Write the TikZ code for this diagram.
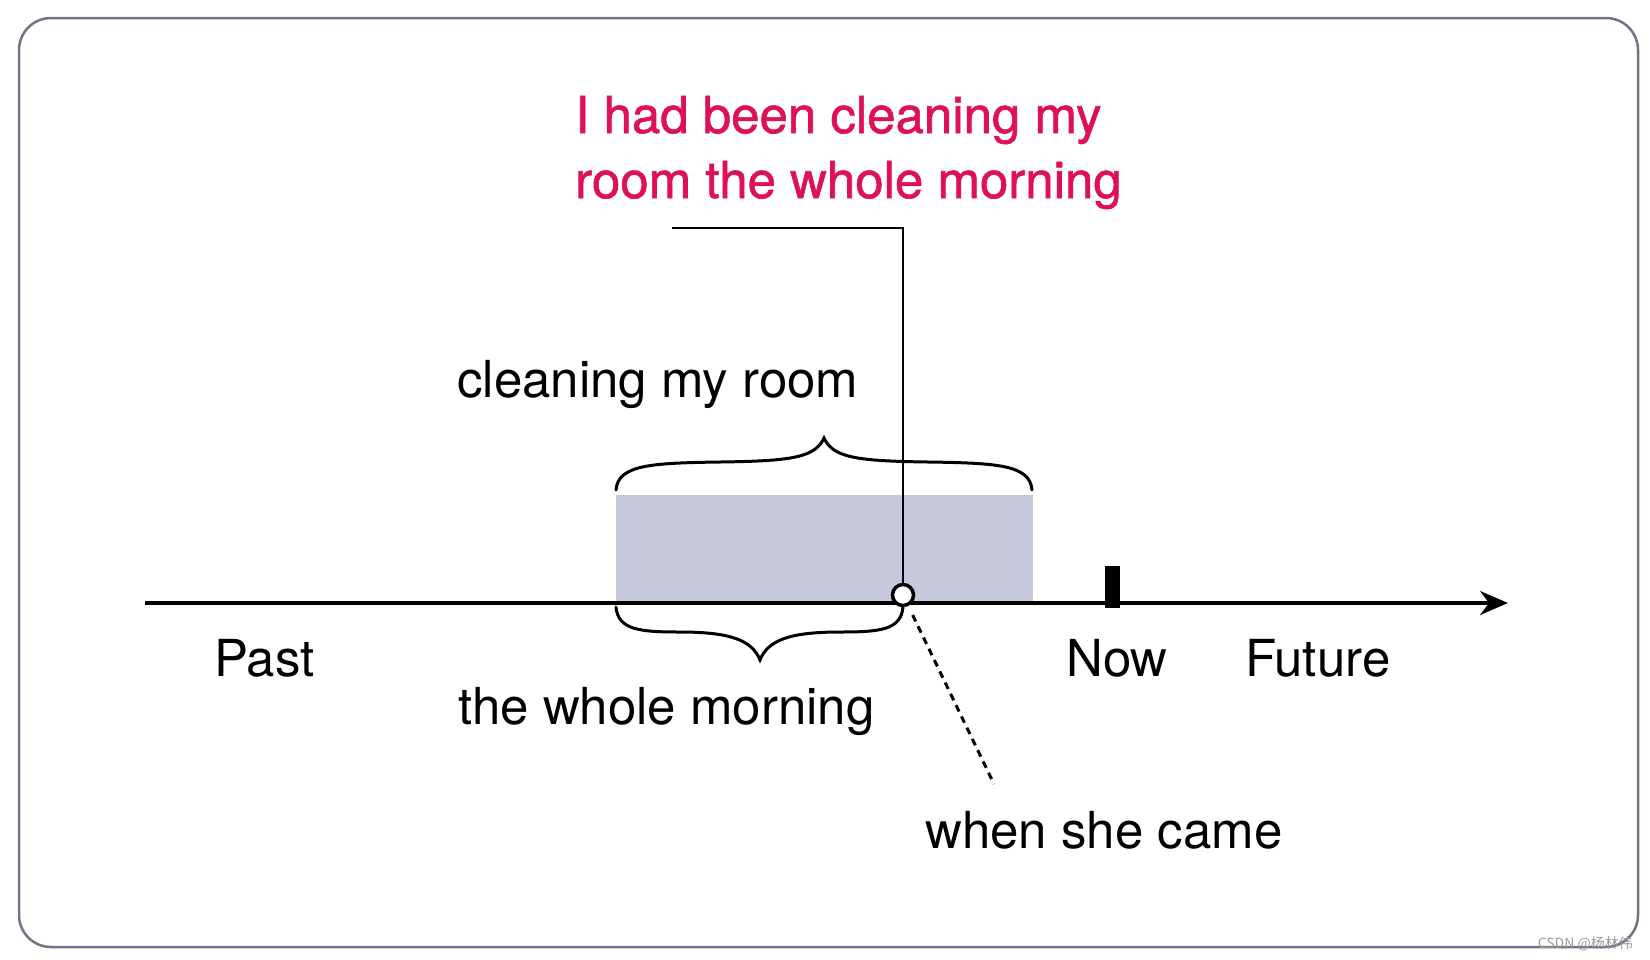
\documentclass[tikz,border=0pt]{standalone}
\usepackage{fontspec}
\setmainfont{TeX Gyre Heros}
\newfontfamily\cjkfont{Noto Sans CJK SC}
\usepackage{tikz}
\usetikzlibrary{arrows.meta}
\definecolor{sentred}{RGB}{222,16,86}
\definecolor{periodfill}{RGB}{198,201,220}
\definecolor{framegray}{RGB}{112,116,134}

\begin{document}
\begin{tikzpicture}[x=1pt, y=-1pt,
    lbl/.style={anchor=base west, inner sep=0pt, font=\fontsize{51}{63}\selectfont},
    sent/.style={lbl, align=left, text=sentred, font=\fontsize{51}{65}\selectfont\addfontfeature{FakeBold=1.2}},
    brace/.style={line width=3pt, line cap=round},
    when/.style={line width=3pt, dash pattern=on 7pt off 5.5pt, shorten <=10pt}]
  \useasboundingbox (0,0) rectangle (1650,959);
  %--- Frame
  \draw[framegray, line width=2.5pt, rounded corners=32pt] (19,18) rectangle (1638,947);
  %--- Coordinates
  \coordinate (start) at (145,603);
  \coordinate (end)   at (1508,603);
  \coordinate (lead)  at (672,228);
  \coordinate (tail)  at (994,784);
  %--- Shaded period
  \fill[periodfill] (616,495) rectangle (1033,603);
  %--- Time line
  \draw[line width=3.2pt, -{Stealth[length=28pt, width=24pt]}] (start) -- (end);
  \node[fill, minimum width=15pt, minimum height=42pt, inner sep=0pt] (now) at (1112.5,587) {};
  %--- Brace over the shaded period
  \draw[brace] (616,490) .. controls (618,465) and (650,463) .. (720,462)
    .. controls (790,461) and (815,458) .. (824,438)
    .. controls (833,458) and (858,461) .. (928,462)
    .. controls (998,463) and (1030,465) .. (1032,490);
  %--- Brace under the time line
  \draw[brace] (616,607) .. controls (618,630) and (640,632) .. (680,632)
    .. controls (730,632) and (752,640) .. (760,660)
    .. controls (768,640) and (790,632) .. (840,632)
    .. controls (880,632) and (901,630) .. (903,607);
  %--- Moment she came
  \draw[line width=2.8pt] (903,595) |- (lead);
  \node[circle, draw, fill=white, line width=3.5pt, minimum size=21pt, inner sep=0pt] (came) at (903,595) {};
  \draw[when] (came) -- (tail);
  %--- Labels
  \node[sent] (sentence) at (575,198) {I had been cleaning my\\room the whole morning};
  \node[lbl] (room) at (457,397) {cleaning my room};
  \node[lbl] (morning) at (458,724) {the whole morning};
  \node[lbl] (past) at (214,676) {Past};
  \node[lbl] (nowlbl) at (1066,676) {Now};
  \node[lbl] (future) at (1245,676) {Future};
  \node[lbl] (camelbl) at (925,848) {when she came};
  \node[anchor=base east, inner sep=0pt, text=gray!80, font=\cjkfont\fontsize{14}{14}\selectfont] (mark) at (1633,948) {CSDN @杨林伟};
\end{tikzpicture}
\end{document}
